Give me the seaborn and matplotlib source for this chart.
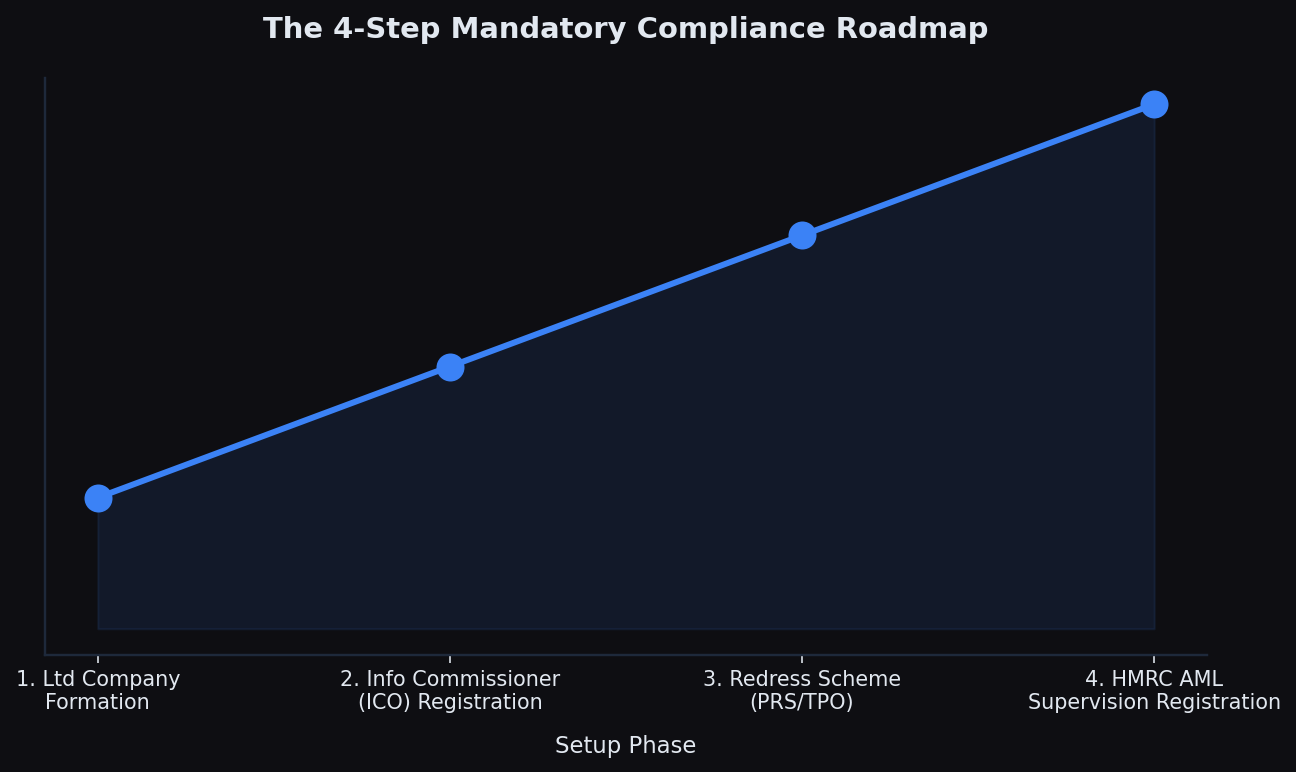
import pandas as pd
import matplotlib.pyplot as plt
import seaborn as sns

steps = ["1. Ltd Company\nFormation", "2. Info Commissioner\n(ICO) Registration",
         "3. Redress Scheme\n(PRS/TPO)", "4. HMRC AML\nSupervision Registration"]
progress = [1, 2, 3, 4]

bg_color = "#0e0e12"
line_color = "#3b82f6"
spine_color = "#1e293b"
text_color = "#e2e8f0"

sns.set_style("dark")
plt.rcParams["font.family"] = ["DejaVu Sans"]

df = pd.DataFrame({"step": range(len(steps)), "progress": progress})

fig = plt.figure(figsize=(9, 772 / 144), dpi=144, facecolor=bg_color)
ax = fig.add_axes([45 / 1296, 1 - 655 / 772, (1207 - 45) / 1296, (655 - 78) / 772])
ax.set_facecolor(bg_color)

ax.fill_between(df["step"], 0, df["progress"], color=line_color, alpha=0.1)
sns.lineplot(data=df, x="step", y="progress", ax=ax, color=line_color,
             linewidth=3, marker="o", markersize=14, markeredgewidth=0)

ax.set_xlim(-0.15, 3.15)
ax.set_ylim(-0.2, 4.2)
ax.set_xticks(range(len(steps)))
ax.set_xticklabels(steps, fontsize=10.4, color=text_color)
ax.set_yticks([])
ax.tick_params(axis="x", colors=text_color, length=4, width=0.8, bottom=True)
ax.grid(False)

for side in ["top", "right"]:
    ax.spines[side].set_visible(False)
for side in ["left", "bottom"]:
    ax.spines[side].set_visible(True)
    ax.spines[side].set_color(spine_color)
    ax.spines[side].set_linewidth(1.2)

ax.set_xlabel("Setup Phase", fontsize=11.4, color=text_color, labelpad=11)
ax.set_ylabel("")
ax.set_title("The 4-Step Mandatory Compliance Roadmap", fontsize=14.5,
             fontweight="bold", color=text_color, pad=20)

plt.savefig("out.png", dpi=144, facecolor=bg_color)
